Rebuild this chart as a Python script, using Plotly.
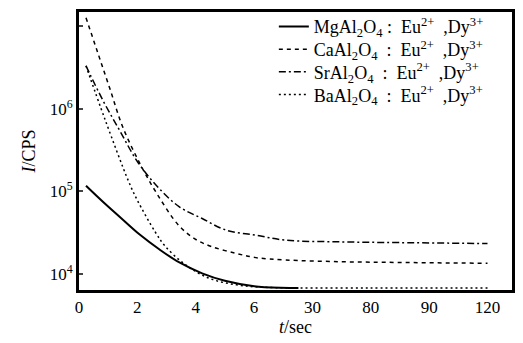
import plotly.graph_objects as go

# x tick labels (equally spaced categories on the time axis)
t_labels = ["0", "2", "4", "6", "30", "80", "90", "120"]
t_pos = [0, 1, 2, 3, 4, 5, 6, 7]

# Series (x given in tick-position units, y = intensity in CPS)
mg_x = [0.12, 0.40, 0.70, 1.04, 1.38, 1.72, 2.11, 2.50, 3.08, 3.76]
mg_y = [1.17e5, 7.6e4, 4.9e4, 3.0e4, 1.98e4, 1.38e4, 1.02e4, 8.3e3, 7.0e3, 6.8e3]

ca_x = [0.12, 0.32, 0.53, 0.75, 1.04, 1.33, 1.72, 2.01, 2.28, 2.69, 3.03, 3.54, 4.5, 5.5, 7.0]
ca_y = [1.26e7, 4.8e6, 1.74e6, 6.0e5, 2.2e5, 9.5e4, 3.8e4, 2.6e4, 2.14e4, 1.78e4, 1.58e4, 1.48e4, 1.41e4, 1.38e4, 1.35e4]

sr_x = [0.12, 0.41, 0.70, 1.00, 1.33, 1.72, 2.11, 2.52, 3.03, 3.54, 4.5, 5.5, 7.0]
sr_y = [3.3e6, 1.26e6, 5.4e5, 2.3e5, 1.17e5, 6.5e4, 4.7e4, 3.4e4, 2.95e4, 2.57e4, 2.45e4, 2.4e4, 2.34e4]

ba_x = [0.12, 0.44, 0.85, 1.00, 1.31, 1.47, 1.81, 2.23, 2.70, 3.20, 5.0, 7.0]
ba_y = [3.3e6, 7.6e5, 1.32e5, 7.8e4, 3.2e4, 2.2e4, 1.32e4, 8.9e3, 7.4e3, 6.9e3, 6.8e3, 6.8e3]

NB = "\u00a0"
names = [
    f"MgAl<sub>2</sub>O<sub>4</sub>{NB}:{NB}{NB}Eu<sup>2+</sup>{NB}{NB},Dy<sup>3+</sup>",
    f"CaAl<sub>2</sub>O<sub>4</sub>{NB}{NB}:{NB}{NB}Eu<sup>2+</sup>{NB}{NB},Dy<sup>3+</sup>",
    f"SrAl<sub>2</sub>O<sub>4</sub>{NB}{NB}:{NB}{NB}Eu<sup>2+</sup>{NB}{NB},Dy<sup>3+</sup>",
    f"BaAl<sub>2</sub>O<sub>4</sub>{NB}{NB}:{NB}{NB}Eu<sup>2+</sup>{NB}{NB},Dy<sup>3+</sup>",
]

y_tickvals = [1e4, 1e5, 1e6, 1e7]
y_ticktext = ["10<sup>4</sup>", "10<sup>5</sup>", "10<sup>6</sup>", ""]

font_family = "Liberation Serif, Times New Roman, serif"

fig = go.Figure()
fig.add_trace(go.Scatter(x=mg_x, y=mg_y, mode="lines", name=names[0], legend="legend",
                         line=dict(color="black", width=2, shape="spline")))
fig.add_trace(go.Scatter(x=ca_x, y=ca_y, mode="lines", name=names[1], legend="legend2",
                         line=dict(color="black", width=1.5, dash="4px,4px", shape="spline")))
fig.add_trace(go.Scatter(x=sr_x, y=sr_y, mode="lines", name=names[2], legend="legend3",
                         line=dict(color="black", width=1.5, dash="7px,3px,2px,3px", shape="spline")))
fig.add_trace(go.Scatter(x=ba_x, y=ba_y, mode="lines", name=names[3], legend="legend4",
                         line=dict(color="black", width=1.5, dash="2px,3px", shape="spline")))

leg_common = dict(x=0.45, xanchor="left", yanchor="middle",
                  bgcolor="rgba(255,255,255,0)", borderwidth=0,
                  font=dict(size=18), itemwidth=30)
legend_rows = [0.947, 0.865, 0.784, 0.702]

fig.update_layout(
    width=523, height=343,
    margin=dict(l=79, r=8, t=8, b=53),
    paper_bgcolor="white", plot_bgcolor="white",
    font=dict(family=font_family, size=17, color="black"),
    showlegend=True,
    legend=dict(y=legend_rows[0], **leg_common),
    legend2=dict(y=legend_rows[1], **leg_common),
    legend3=dict(y=legend_rows[2], **leg_common),
    legend4=dict(y=legend_rows[3], **leg_common),
    xaxis=dict(range=[0, 7.42], tickmode="array", tickvals=t_pos, ticktext=t_labels,
               showgrid=False, zeroline=False, showline=True, linecolor="black",
               linewidth=3, mirror=True, ticks="", tickfont=dict(size=17),
               title=dict(text="<i>t</i>/sec", font=dict(size=18), standoff=4)),
    yaxis=dict(type="log", range=[3.807, 7.17], tickmode="array",
               tickvals=y_tickvals, ticktext=y_ticktext,
               showgrid=False, zeroline=False, showline=True, linecolor="black",
               linewidth=3, mirror=True, ticks="inside", ticklen=4, tickwidth=2,
               tickfont=dict(size=17),
               title=dict(text="<i>I</i>/CPS", font=dict(size=18), standoff=10)),
)

fig.write_html("out.html")
